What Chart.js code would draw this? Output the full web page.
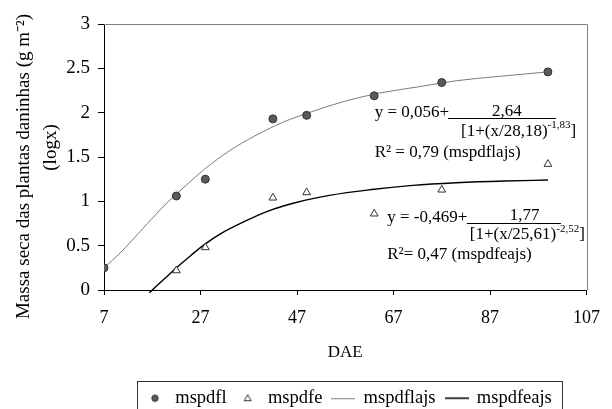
<!DOCTYPE html>
<html><head><meta charset="utf-8">
<script src="https://cdn.jsdelivr.net/npm/chart.js@4.4.0/dist/chart.umd.min.js"></script>
<style>html,body{margin:0;padding:0;background:#fff}#wrap{width:612px;height:409px}</style>
</head><body><div id="wrap"><canvas id="c" width="612" height="409"></canvas></div>
<script>
// ---- data ----
const obsDays = [7, 22, 28, 42, 49, 63, 77, 99];
const mspdfl = [0.25, 1.06, 1.25, 1.93, 1.97, 2.19, 2.34, 2.46];
const mspdfeDays = [22, 28, 42, 49, 63, 77, 99];
const mspdfe = [0.22, 0.48, 1.04, 1.10, 0.86, 1.13, 1.42];
const flFitDays = [7, 10, 13, 16, 20, 24, 28, 33, 38, 44, 50, 57, 64, 72, 80, 89, 99];
const mspdflajs = [0.25, 0.40, 0.57, 0.75, 0.98, 1.18, 1.37, 1.57, 1.73, 1.89, 2.01, 2.13, 2.22, 2.29, 2.36, 2.41, 2.46];
const feFitDays = [16.4, 18, 20, 22, 25, 28, 32, 36, 41, 47, 54, 62, 71, 80, 90, 99];
const mspdfeajs = [-0.03, 0.05, 0.15, 0.25, 0.39, 0.52, 0.66, 0.77, 0.89, 0.99, 1.07, 1.13, 1.18, 1.21, 1.23, 1.24];
const xTickValues = [7, 27, 47, 67, 87, 107];
const yTickValues = [0, 0.5, 1, 1.5, 2, 2.5, 3];
const seriesNames = ['mspdfl', 'mspdfe', 'mspdflajs', 'mspdfeajs'];
const yTitleLines = ['Massa seca das plantas daninhas (g m\u207B\u00B2)    ', '    (logx)'];
const xTitle = 'DAE';
const equations = [
  {main: 'y = 0,056+', num: '2,64', den: '[1+(x/28,18)', sup: '-1,83', r2: 'R\u00B2 = 0,79 (mspdflajs)',
   at: {main: [63.1, 2.0], num: [90.5, 2.01], bar: [78.3, 100.7, 1.94], den: [81.0, 1.79], r2: [63.1, 1.556]}},
  {main: 'y = -0,469+', num: '1,77', den: '[1+(x/25,61)', sup: '-2,52', r2: 'R\u00B2= 0,47 (mspdfeajs)',
   at: {main: [65.7, 0.812], num: [94.2, 0.835], bar: [82.2, 101.7, 0.756], den: [82.8, 0.62], r2: [65.7, 0.395]}}
];

const FONT = '"Liberation Serif", "Times New Roman", serif';
const FS = 17;
Chart.defaults.font.family = FONT;
Chart.defaults.color = '#000';

function pts(xs, ys) { return xs.map((x, i) => ({x: x, y: ys[i]})); }
function icon(w, h, draw) { const c = document.createElement('canvas'); c.width = w; c.height = h; draw(c.getContext('2d')); return c; }
const icons = [
  icon(10, 10, g => { g.beginPath(); g.arc(5, 5, 3.2, 0, Math.PI * 2); g.fillStyle = '#5a5a5a'; g.fill(); g.strokeStyle = '#333'; g.lineWidth = 1; g.stroke(); }),
  icon(10, 10, g => { g.beginPath(); g.moveTo(5, 1.5); g.lineTo(8.5, 7.5); g.lineTo(1.5, 7.5); g.closePath(); g.fillStyle = '#fff'; g.fill(); g.strokeStyle = '#333'; g.lineWidth = 1; g.stroke(); }),
  icon(24, 4, g => { g.strokeStyle = '#808080'; g.lineWidth = 1; g.beginPath(); g.moveTo(0, 2.5); g.lineTo(24, 2.5); g.stroke(); }),
  icon(24, 4, g => { g.strokeStyle = '#000'; g.lineWidth = 1.5; g.beginPath(); g.moveTo(0, 2); g.lineTo(24, 2); g.stroke(); })
];

const framePlugin = {
  id: 'frame',
  beforeDatasetsDraw(chart) {
    const {ctx, chartArea: a} = chart;
    ctx.save();
    ctx.strokeStyle = '#808080'; ctx.lineWidth = 1;
    ctx.beginPath();
    ctx.moveTo(a.left, Math.round(a.top) + 0.5); ctx.lineTo(Math.round(a.right) + 0.5, Math.round(a.top) + 0.5);
    ctx.lineTo(Math.round(a.right) + 0.5, a.bottom);
    ctx.stroke();
    ctx.restore();
  }
};

const LEGEND_ITEMS_START = 144;
const legendPlace = {
  id: 'legendPlace',
  beforeLayout(chart) {
    const lg = chart.legend;
    if (lg && !lg._patched) {
      const f = lg.fit;
      lg.fit = function () { f.call(this); this._realH = this.height; this.height = 0; };
      lg._patched = true;
    }
  },
  afterLayout(chart) {
    const lg = chart.legend;
    lg.top = 379; lg.bottom = lg.top + (lg._realH || 50);
    lg.height = lg.bottom - lg.top;
    if (lg.lineWidths) {
      const pad = lg.options.labels.padding;
      const shift = LEGEND_ITEMS_START - (lg.left + pad + lg.right - lg.lineWidths[0]) / 2;
      lg.left += shift; lg.right += shift;
    }
  },
  afterDraw(chart) {
    const lg = chart.legend;
    if (!lg.lineWidths) return;
    const pad = lg.options.labels.padding;
    const lw = lg.lineWidths[0];
    const start = (lg.left + pad + lg.right - lw) / 2;
    const ctx = chart.ctx;
    ctx.save();
    ctx.strokeStyle = '#333'; ctx.lineWidth = 1;
    ctx.strokeRect(Math.round(start - 7) + 0.5, 381.5, Math.round(lw - pad + 17), 60);
    ctx.restore();
  }
};

const eqPlugin = {
  id: 'equations',
  afterDatasetsDraw(chart) {
    const {ctx, scales: {x, y}} = chart;
    const P = (p) => [x.getPixelForValue(p[0]), y.getPixelForValue(p[1])];
    ctx.save();
    ctx.fillStyle = '#000'; ctx.strokeStyle = '#000'; ctx.textBaseline = 'middle';
    equations.forEach(e => {
      ctx.font = FS + 'px ' + FONT;
      let p = P(e.at.main); ctx.textAlign = 'left'; ctx.fillText(e.main, p[0], p[1]);
      p = P(e.at.num); ctx.textAlign = 'center'; ctx.fillText(e.num, p[0], p[1]);
      const b0 = x.getPixelForValue(e.at.bar[0]), b1 = x.getPixelForValue(e.at.bar[1]), by = Math.round(y.getPixelForValue(e.at.bar[2])) + 0.5;
      ctx.lineWidth = 1; ctx.beginPath(); ctx.moveTo(b0, by); ctx.lineTo(b1, by); ctx.stroke();
      p = P(e.at.den); ctx.textAlign = 'left'; ctx.fillText(e.den, p[0], p[1]);
      let w = ctx.measureText(e.den).width;
      ctx.font = '11px ' + FONT; ctx.fillText(e.sup, p[0] + w, p[1] - 6);
      const w2 = ctx.measureText(e.sup).width;
      ctx.font = FS + 'px ' + FONT; ctx.fillText(']', p[0] + w + w2, p[1]);
      p = P(e.at.r2); ctx.fillText(e.r2, p[0], p[1]);
    });
    ctx.restore();
  }
};

Chart.register(framePlugin, legendPlace, eqPlugin);

new Chart(document.getElementById('c').getContext('2d'), {
  type: 'scatter',
  data: {
    datasets: [
      {label: seriesNames[0], data: pts(obsDays, mspdfl), pointStyle: 'circle', pointRadius: 4, backgroundColor: '#5a5a5a', borderColor: '#333', borderWidth: 1, showLine: false},
      {label: seriesNames[1], data: pts(mspdfeDays, mspdfe), pointStyle: 'triangle', pointRadius: 4.5, backgroundColor: '#fff', borderColor: '#333', borderWidth: 1, showLine: false},
      {label: seriesNames[2], data: pts(flFitDays, mspdflajs), showLine: true, pointRadius: 0, borderColor: '#7a7a7a', backgroundColor: '#7a7a7a', borderWidth: 1, cubicInterpolationMode: 'monotone', fill: false},
      {label: seriesNames[3], data: pts(feFitDays, mspdfeajs), showLine: true, pointRadius: 0, borderColor: '#000', backgroundColor: '#000', borderWidth: 1.4, cubicInterpolationMode: 'monotone', fill: false, clip: 6}
    ]
  },
  options: {
    responsive: false, animation: false, devicePixelRatio: 1,
    layout: {padding: {left: 0, right: 16, top: 24, bottom: 0}},
    plugins: {
      tooltip: {enabled: false},
      legend: {
        position: 'bottom',
        labels: {
          usePointStyle: true, pointStyleWidth: 22, padding: 10, color: '#000',
          font: {family: FONT, size: 18.5},
          generateLabels(chart) {
            const items = Chart.defaults.plugins.legend.labels.generateLabels(chart);
            items.forEach((it, i) => { it.pointStyle = icons[i]; it.fontColor = '#000'; });
            return items;
          }
        }
      }
    },
    scales: {
      x: {
        type: 'linear', min: 7, max: 107,
        afterBuildTicks(s) { s.ticks = xTickValues.map(v => ({value: v})); },
        afterFit(s) { s.height = 119; },
        grid: {display: true, drawOnChartArea: false, drawTicks: true, tickLength: 5, color: '#000'},
        border: {display: true, color: '#000', width: 1},
        ticks: {color: '#000', font: {family: FONT, size: 18}, padding: 12, maxRotation: 0, callback: v => String(v)},
        title: {display: true, text: xTitle, color: '#000', font: {family: FONT, size: FS}, padding: {top: 0, bottom: 46}}
      },
      y: {
        type: 'linear', min: 0, max: 3,
        afterBuildTicks(s) { s.ticks = yTickValues.map(v => ({value: v})); },
        afterFit(s) { s.width = 104; },
        grid: {display: true, drawOnChartArea: false, drawTicks: true, tickLength: 6, color: '#000'},
        border: {display: true, color: '#000', width: 1},
        ticks: {color: '#000', font: {family: FONT, size: 19}, padding: 8, callback: v => String(v)},
        title: {display: true, text: yTitleLines, color: '#000', font: {family: FONT, size: 19, lineHeight: 1.45}, padding: {top: 10, bottom: 0}}
      }
    }
  }
});
</script></body></html>
